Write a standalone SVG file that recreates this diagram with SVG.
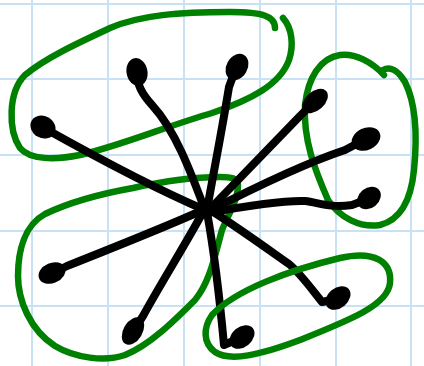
<svg xmlns="http://www.w3.org/2000/svg" width="424" height="366" viewBox="0 0 424 366">
<style>
.grid line{stroke:#c8e1f4;stroke-width:2}
.loop{fill:none;stroke:#008000;stroke-width:6.5;stroke-linecap:round;stroke-linejoin:round}
.arm path{fill:none;stroke:#000;stroke-width:8;stroke-linecap:round;stroke-linejoin:round}
.arm ellipse{fill:#000}
</style>
<rect width="424" height="366" fill="#fff"/>
<g class="grid">
<line x1="32" y1="0" x2="32" y2="366"/>
<line x1="108" y1="0" x2="108" y2="366"/>
<line x1="184" y1="0" x2="184" y2="366"/>
<line x1="260" y1="0" x2="260" y2="366"/>
<line x1="336" y1="0" x2="336" y2="366"/>
<line x1="411" y1="0" x2="411" y2="366"/>
<line x1="0" y1="4" x2="424" y2="4"/>
<line x1="0" y1="79" x2="424" y2="79"/>
<line x1="0" y1="155" x2="424" y2="155"/>
<line x1="0" y1="231" x2="424" y2="231"/>
<line x1="0" y1="306" x2="424" y2="306"/>
</g>
<g id="loopA"><path class="loop" d="M275,28 C275,16 262,12 230,12 C180,12 140,15 110,28 C80,42 45,58 25,75 C8,92 8,130 20,148 C30,160 55,160 80,155 C120,146 170,125 212,113 C250,100 280,85 289,60 C294,45 292,28 283,18"/></g>
<g id="loopB"><path class="loop" d="M384,75 C372,62 355,53 340,55 C320,58 308,78 305,105 C303,140 315,170 328,200 C340,218 360,228 380,225 C400,220 411,200 414,170 C418,130 414,100 405,82 C398,70 390,66 383,70"/></g>
<g id="loopC"><path class="loop" d="M238,185 C237,178 232,177 220,177 C190,177 160,182 133,188 C105,193 70,202 45,214 C25,225 18,250 18,276 C18,300 30,330 55,346 C75,358 105,362 125,355 C150,345 175,320 195,300 C210,282 215,255 222,230 C228,215 238,200 238,185 Z"/></g>
<g id="arms" class="arm">
<path d="M205,210 C170,195 110,165 44,128"/><ellipse cx="43" cy="127" rx="13" ry="11" transform="rotate(30 43 127)"/>
<path d="M205,210 C190,170 175,130 152,105 C142,94 137,85 137,72"/><ellipse cx="137" cy="72" rx="14" ry="10.5" transform="rotate(80 137 72)"/>
<path d="M207,210 C214,170 222,130 229,87 L236,68"/><ellipse cx="237" cy="67" rx="14" ry="10.5" transform="rotate(-60 237 67)"/>
<path d="M207,212 C240,178 275,142 299,117 L314,102"/><ellipse cx="315" cy="101" rx="15" ry="9.5" transform="rotate(-42 315 101)"/>
<path d="M207,212 C240,195 300,165 345,150 L364,140"/><ellipse cx="366" cy="139" rx="15" ry="11" transform="rotate(-25 366 139)"/>
<path d="M207,213 C240,207 280,200 305,201 C320,203 330,208 352,205 L368,199"/><ellipse cx="369" cy="198" rx="13" ry="10" transform="rotate(-40 369 198)"/>
<path d="M207,208 C230,222 262,245 289,264 C300,273 310,287 322,302 L336,299"/><ellipse cx="338" cy="298" rx="14" ry="10" transform="rotate(-40 338 298)"/>
<path d="M207,212 C212,240 218,280 224,345 L240,338"/><ellipse cx="242" cy="337" rx="14" ry="10" transform="rotate(-40 242 337)"/>
<path d="M203,212 C185,245 160,285 143,316 L134,330"/><ellipse cx="133" cy="331" rx="15" ry="9.5" transform="rotate(-59 133 331)"/>
<path d="M203,210 C170,225 120,245 67,266 L53,273"/><ellipse cx="52" cy="273" rx="14" ry="10" transform="rotate(-23 52 273)"/>
</g>
<g id="loopD"><path class="loop" d="M212,315 C235,290 290,270 340,258 C375,250 392,262 390,283 C388,305 350,320 300,340 C260,355 230,362 215,352 C203,343 203,328 212,315 Z"/></g>
</svg>
